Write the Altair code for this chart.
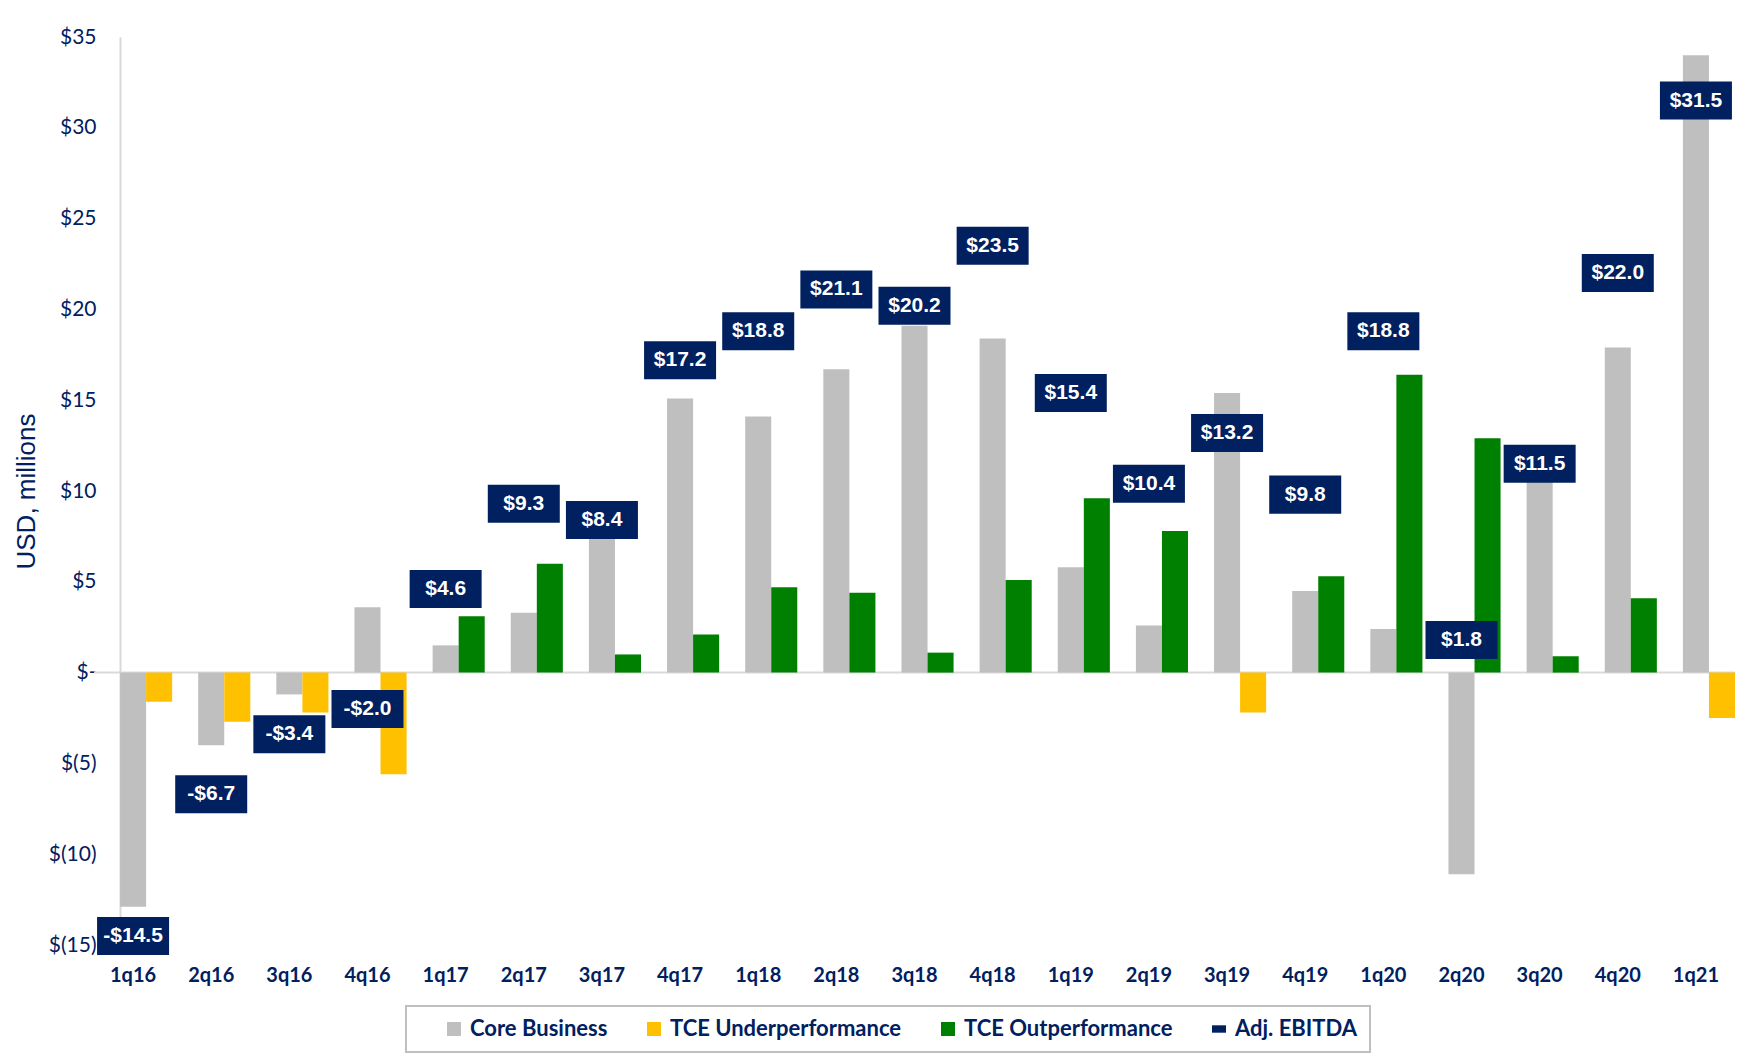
import altair as alt
import pandas as pd

quarters = ["1q16", "2q16", "3q16", "4q16", "1q17", "2q17", "3q17", "4q17",
            "1q18", "2q18", "3q18", "4q18", "1q19", "2q19", "3q19", "4q19",
            "1q20", "2q20", "3q20", "4q20", "1q21"]
core_business = [-12.9, -4.0, -1.2, 3.6, 1.5, 3.3, 7.4, 15.1, 14.1, 16.7, 19.1,
                 18.4, 5.8, 2.6, 15.4, 4.5, 2.4, -11.1, 10.6, 17.9, 34.0]
tce_under = [-1.6, -2.7, -2.2, -5.6, 0, 0, 0, 0, 0, 0, 0,
             0, 0, 0, -2.2, 0, 0, 0, 0, 0, -2.5]
tce_out = [0, 0, 0, 0, 3.1, 6.0, 1.0, 2.1, 4.7, 4.4, 1.1,
           5.1, 9.6, 7.8, 0, 5.3, 16.4, 12.9, 0.9, 4.1, 0]
adj_ebitda = [-14.5, -6.7, -3.4, -2.0, 4.6, 9.3, 8.4, 17.2, 18.8, 21.1, 20.2,
              23.5, 15.4, 10.4, 13.2, 9.8, 18.8, 1.8, 11.5, 22.0, 31.5]

series_names = ["Core Business", "TCE Underperformance", "TCE Outperformance", "Adj. EBITDA"]
series_colors = ["#BFBFBF", "#FFC000", "#008000", "#002060"]
y_ticks = [-15, -10, -5, 0, 5, 10, 15, 20, 25, 30, 35]

NAVY = "#002060"
BOX_PATH = "M-1,-0.528H1V0.528H-1Z"

rows = []
for q, c, u, o in zip(quarters, core_business, tce_under, tce_out):
    rows.append({"quarter": q, "series": "Core Business", "slot": "core", "value": c})
    if u != 0:
        rows.append({"quarter": q, "series": "TCE Underperformance", "slot": "tce", "value": u})
    if o != 0:
        rows.append({"quarter": q, "series": "TCE Outperformance", "slot": "tce", "value": o})
bars_df = pd.DataFrame(rows)

lab_df = pd.DataFrame({"quarter": quarters, "value": adj_ebitda})
lab_df["series"] = "Adj. EBITDA"
lab_df["label"] = [("-$" if v < 0 else "$") + f"{abs(v):.1f}" for v in adj_ebitda]

zero_df = pd.DataFrame({"zero": [0]})

y_scale = alt.Scale(domain=[-15, 35], nice=False, zero=False)
x_scale = alt.Scale(domain=quarters, paddingInner=0, paddingOuter=0)
color_scale = alt.Scale(domain=series_names, range=series_colors)
shape_scale = alt.Scale(domain=series_names, range=["square", "square", "square", BOX_PATH])

legend_lab = ("datum.label == 'Adj. EBITDA' ? datum.label + '\u00a0\u00a0\u00a0' : datum.label")

legend = alt.Legend(
    title=None, orient="none", legendX=312, legendY=969, direction="horizontal",
    columns=4, symbolSize=196, symbolStrokeWidth=0, symbolOffset=25,
    labelOffset=5, columnPadding=10, padding=12, labelExpr=legend_lab,
    labelFont="Lato", labelFontSize=22, labelFontWeight="bold", labelColor=NAVY,
    labelLimit=400, strokeColor="#BFBFBF",
)

y_lab = ("datum.value == 0 ? '$-\u00a0' : (datum.value < 0 ? '$(' + abs(datum.value) + ')'"
         " : '$' + datum.value + '\u00a0')")

rule = alt.Chart(zero_df).mark_rule(color="#D9D9D9", strokeWidth=2).encode(
    y=alt.Y("zero:Q", scale=y_scale,
            axis=alt.Axis(values=y_ticks, labelExpr=y_lab, title="USD, millions",
                          offset=-26, domainColor="#D9D9D9", domainWidth=2, ticks=False,
                          grid=False, labelPadding=24, labelFont="Lato", labelFontSize=21,
                          labelColor=NAVY, titleFont="Liberation Sans", titleFontSize=26,
                          titleFontWeight="normal", titleColor=NAVY, titlePadding=9)),
)

bars = alt.Chart(bars_df).mark_bar().encode(
    x=alt.X("quarter:N", scale=x_scale, title=None,
            axis=alt.Axis(domain=False, ticks=False, labelAngle=0, labelPadding=20,
                          labelFont="Lato", labelFontSize=20, labelFontWeight="bold",
                          labelColor=NAVY)),
    xOffset=alt.XOffset("slot:N", scale=alt.Scale(domain=["left", "core", "tce"],
                                                    paddingInner=0, paddingOuter=0)),
    y=alt.Y("value:Q", scale=y_scale),
    color=alt.Color("series:N", scale=color_scale, legend=legend),
)

boxes = alt.Chart(lab_df).mark_point(filled=True, opacity=1, size=5184, strokeWidth=0).encode(
    x=alt.X("quarter:N", scale=x_scale),
    y=alt.Y("value:Q", scale=y_scale),
    color=alt.Color("series:N", scale=color_scale, legend=legend),
    shape=alt.Shape("series:N", scale=shape_scale, legend=legend),
)

texts = alt.Chart(lab_df).mark_text(
    font="Liberation Sans", fontSize=21, fontWeight="bold", color="white",
    baseline="middle", align="center",
).encode(
    x=alt.X("quarter:N", scale=x_scale),
    y=alt.Y("value:Q", scale=y_scale),
    text="label:N",
)

chart = alt.layer(rule, bars, boxes, texts).properties(
    width=1641, height=908,
    autosize=alt.AutoSizeParams(type="none"),
    padding={"left": 86, "top": 29, "right": 5, "bottom": 110},
).configure_view(stroke=None).configure_legend(strokeWidth=2)

chart.save("out.html", embed_options={"renderer": "svg", "actions": False})
